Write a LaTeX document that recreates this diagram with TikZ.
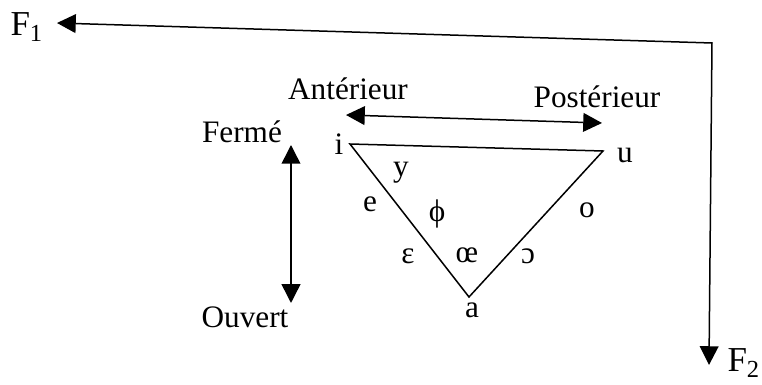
\documentclass[tikz,border=0pt]{standalone}
\usepackage{fontspec}
\setmainfont{Liberation Serif}
\usetikzlibrary{arrows.meta}

\begin{document}
\begin{tikzpicture}[
    x=0.4pt, y=-0.4pt,
    label/.style={font=\fontsize{12.5}{15}\selectfont, inner sep=0pt, anchor=base},
    formant/.style={font=\fontsize{14}{16}\selectfont, inner sep=0pt, anchor=base},
    vowel/.style={font=\fontsize{12.5}{15}\selectfont, inner sep=0pt, anchor=base},
    arr/.style={line width=0.6pt, {Triangle[length=7.5pt,width=7.5pt]}-{Triangle[length=7.5pt,width=7.5pt]}},
    side/.style={line width=0.6pt, line join=miter}
]
\useasboundingbox (0,0) rectangle (762,385);

% Formants
\node[formant] (f1) at (27,36) {F\textsubscript{1}};
\node[formant] (f2) at (744,372) {F\textsubscript{2}};
\coordinate (f1tip) at (57,23);
\coordinate (corner) at (712,43);
\coordinate (f2tip) at (709,365);
\draw[arr] (f1tip) -- (corner) -- (f2tip);

% Axes
\node[label] (ant) at (348,100) {Antérieur};
\node[label] (post) at (597,108) {Postérieur};
\node[label] (ferme) at (242,143) {Fermé};
\node[label] (ouvert) at (245,328) {Ouvert};
\coordinate (antTip) at (346,115);
\coordinate (postTip) at (602,123);
\coordinate (fermeTip) at (291,145);
\coordinate (ouvertTip) at (291,303);
\draw[arr] (antTip) -- (postTip);
\draw[arr] (fermeTip) -- (ouvertTip);

% Triangle
\coordinate (vi) at (350,144);
\coordinate (vu) at (603,151);
\coordinate (va) at (469,297);
\draw[side] (vi) -- (vu) -- (va) -- cycle;

% Vowels
\node[vowel] (i) at (339,155) {i};
\node[vowel] (u) at (625,163) {u};
\node[vowel] (a) at (472,318) {a};
\node[vowel] (y) at (401,177) {y};
\node[vowel] (e) at (370,212) {e};
\node[vowel] (phi) at (437,222) {ϕ};
\node[vowel] (o) at (587,218) {o};
\node[vowel] (eps) at (408,264) {ε};
\node[vowel] (oe) at (467,263) {œ};
\node[vowel] (oo) at (528,264) {ɔ};

\end{tikzpicture}
\end{document}
